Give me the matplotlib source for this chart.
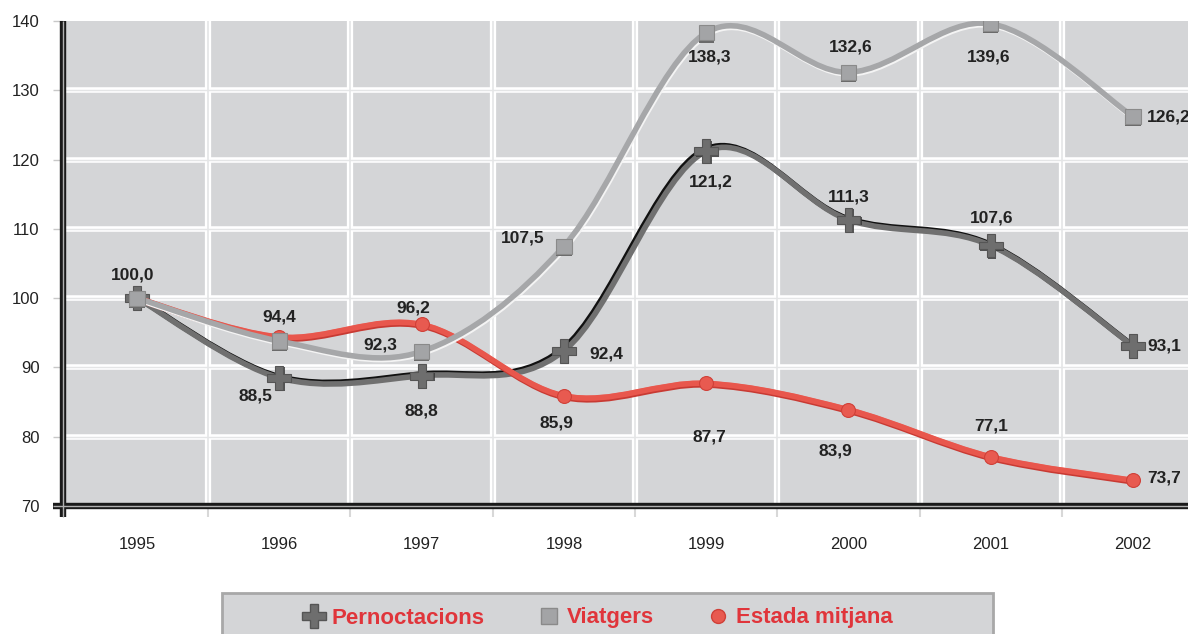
import matplotlib
matplotlib.use("Agg")
import matplotlib.pyplot as plt
import matplotlib.patheffects as pe
from matplotlib.path import Path
from matplotlib.patches import PathPatch, Rectangle
from matplotlib.lines import Line2D

plt.rcParams['font.family'] = ['Liberation Sans', 'DejaVu Sans']

# data
years = ['1995', '1996', '1997', '1998', '1999', '2000', '2001', '2002']
pernoctacions = [100.0, 88.5, 88.8, 92.4, 121.2, 111.3, 107.6, 93.1]
viatgers = [100.0, 93.8, 92.3, 107.5, 138.3, 132.6, 139.6, 126.2]
estada = [100.0, 94.4, 96.2, 85.9, 87.7, 83.9, 77.1, 73.7]

# label offsets in pixels (series, index, dx, dy, ha)
labels = [
    ('V', 0, -4, 23, 'center'),
    ('E', 1, 0, 20, 'center'),
    ('P', 1, -24, -18, 'center'),
    ('V', 2, -41, 6, 'center'),
    ('E', 2, -8, 16, 'center'),
    ('P', 2, 0, -35, 'center'),
    ('V', 3, -41, 8, 'center'),
    ('P', 3, 42, -3, 'center'),
    ('E', 3, -7, -27, 'center'),
    ('V', 4, 3, -24, 'center'),
    ('P', 4, 5, -31, 'center'),
    ('E', 4, 3, -54, 'center'),
    ('V', 5, 2, 25, 'center'),
    ('P', 5, 0, 23, 'center'),
    ('E', 5, -13, -41, 'center'),
    ('V', 6, -2, -33, 'center'),
    ('P', 6, 1, 27, 'center'),
    ('E', 6, 0, 31, 'center'),
    ('V', 7, 14, 0, 'left'),
    ('P', 7, 14, 0, 'left'),
    ('E', 7, 14, 2, 'left'),
]


def smooth_path(xs, ys):
    # catmull-rom style bezier segments, like a spreadsheet "smoothed line"
    n = len(xs)
    verts = [(xs[0], ys[0])]
    codes = [Path.MOVETO]
    for i in range(n - 1):
        x0, y0 = (xs[i - 1], ys[i - 1]) if i > 0 else (xs[i], ys[i])
        x3, y3 = (xs[i + 2], ys[i + 2]) if i + 2 < n else (xs[i + 1], ys[i + 1])
        c1 = (xs[i] + (xs[i + 1] - x0) / 6, ys[i] + (ys[i + 1] - y0) / 6)
        c2 = (xs[i + 1] - (x3 - xs[i]) / 6, ys[i + 1] - (y3 - ys[i]) / 6)
        verts += [c1, c2, (xs[i + 1], ys[i + 1])]
        codes += [Path.CURVE4] * 3
    return Path(verts, codes)


fig = plt.figure(figsize=(11.88, 6.34), dpi=100)
ax = fig.add_axes([63 / 1188, 1 - 506 / 634, 1 - 63 / 1188, 485 / 634])
ax.set_facecolor('#d4d5d7')
ax.set_xlim(-0.52, 7.386)
ax.set_ylim(70, 140)

for s in ax.spines.values():
    s.set_visible(False)

# grid lines
for yv in range(80, 140, 10):
    ax.axhline(yv, color='white', lw=4, zorder=0.5)
    ax.axhline(yv, color='#e4e5e6', lw=1.0, zorder=0.6)
for xv in range(7):
    ax.axvline(xv + 0.5, color='white', lw=4.5, zorder=0.5)
    ax.axvline(xv + 0.5, color='#e4e5e6', lw=1.2, zorder=0.6)

# ticks
ax.set_yticks(range(70, 141, 10))
ax.tick_params(axis='y', length=7, width=1, color='#c8c8c8', pad=10, labelsize=12, labelcolor='#222222')
xs = list(range(len(years)))
ax.set_xticks(xs)
ax.set_xticklabels(years)
ax.tick_params(axis='x', length=0, pad=22, labelsize=12, labelcolor='#222222')
ax.set_xticks([x + 0.5 for x in range(7)], minor=True)
ax.tick_params(axis='x', which='minor', length=8, width=1.5, color='#d8d8d8')

# heavy double axis lines
for lw, col in [(4.6, '#1a1a1a'), (1.0, '#b0b0b0')]:
    ax.add_line(Line2D([0, 0], [-0.023, 1], transform=ax.transAxes, color=col, lw=lw, clip_on=False,
                       zorder=5, solid_capstyle='butt'))
    ax.add_line(Line2D([-0.009, 1], [0, 0], transform=ax.transAxes, color=col, lw=lw, clip_on=False,
                       zorder=5, solid_capstyle='butt'))

# lines
p_path = smooth_path(xs, pernoctacions)
ax.add_patch(PathPatch(p_path, fill=False, ec='#707070', lw=4, zorder=2, capstyle='round',
                       path_effects=[pe.Stroke(linewidth=4, foreground='#111111', offset=(-1.2, 1.2)),
                                     pe.Normal()]))
e_path = smooth_path(xs, estada)
ax.add_patch(PathPatch(e_path, fill=False, ec='#e8574d', lw=4, zorder=3, capstyle='round',
                       path_effects=[pe.Stroke(linewidth=4, foreground='#c83a33', offset=(0.5, -1.2)),
                                     pe.Stroke(linewidth=2.5, foreground='#f07a70', offset=(0, 0.6)),
                                     pe.Normal()]))
v_path = smooth_path(xs, viatgers)
ax.add_patch(PathPatch(v_path, fill=False, ec='#a6a7a9', lw=4, zorder=4, capstyle='round',
                       path_effects=[pe.Stroke(linewidth=4, foreground='#f4f4f4', offset=(0.8, -1.2)),
                                     pe.Normal()]))

# markers
ax.plot(xs, pernoctacions, ls='none', marker='P', ms=17, mfc='#6e6e6e', mec='#555555', mew=0.8, zorder=2.5,
        path_effects=[pe.SimplePatchShadow(offset=(1, -1), shadow_rgbFace='#333333', alpha=0.8), pe.Normal()])
ax.plot(xs, estada, ls='none', marker='o', ms=10, mfc='#e85a50', mec='#d04038', mew=0.8, zorder=3.5)
ax.plot(xs, viatgers, ls='none', marker='s', ms=11, mfc='#a3a4a6', mec='#8a8a8a', mew=0.8, zorder=4.5,
        path_effects=[pe.SimplePatchShadow(offset=(0, -1.5), shadow_rgbFace='#6a6a6a', alpha=1), pe.Normal()])

series = {'P': pernoctacions, 'V': viatgers, 'E': estada}
for key, i, dx, dy, ha in labels:
    val = series[key][i]
    ax.annotate(f'{val:.1f}'.replace('.', ','), (i, val), xytext=(dx, dy), textcoords='offset pixels',
                ha=ha, va='center', fontsize=12.5, fontweight='bold', color='#222222', zorder=6,
                annotation_clip=False)

# legend box
fig.patches.append(Rectangle((222 / 1188, -0.02), (993 - 222) / 1188, 0.02 + 1 - 593 / 634,
                             transform=fig.transFigure, fc='#d4d5d7', ec='#a8a8a8', lw=2))
handles = [
    Line2D([], [], ls='none', marker='P', ms=17, mfc='#6e6e6e', mec='#555555'),
    Line2D([], [], ls='none', marker='s', ms=11, mfc='#a3a4a6', mec='#8a8a8a'),
    Line2D([], [], ls='none', marker='o', ms=10, mfc='#e85a50', mec='#d04038'),
]
names = ['Pernoctacions', 'Viatgers', 'Estada mitjana']
leg = fig.legend(handles, names, loc='center', bbox_to_anchor=(0.503, 1 - 618 / 634), ncol=3, frameon=False,
                 handlelength=1.0, handletextpad=0.3, columnspacing=2.4,
                 prop={'weight': 'bold', 'size': 16})
for t in leg.get_texts():
    t.set_color('#e0353b')

fig.savefig('out.png', dpi=100)
